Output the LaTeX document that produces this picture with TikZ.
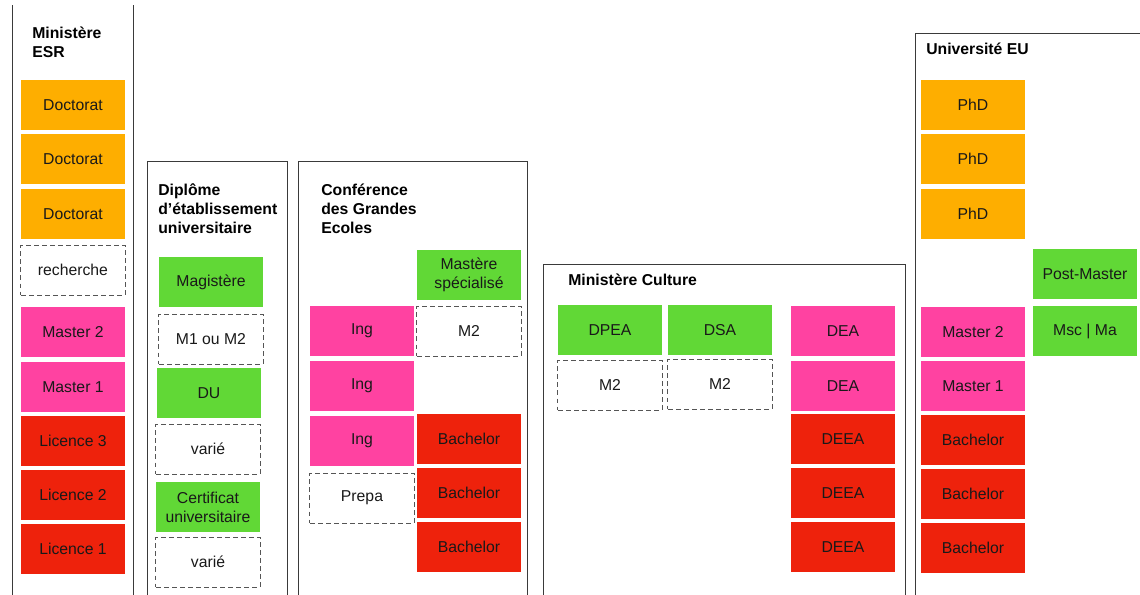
\documentclass[tikz,border=0pt]{standalone}
\usepackage{fontspec}
\setmainfont{Liberation Sans}
\usepackage{xcolor}
\usepackage{tikz}

\definecolor{docorange}{HTML}{FEAE00}
\definecolor{dipgreen}{HTML}{61D836}
\definecolor{mpink}{HTML}{FF42A1}
\definecolor{lred}{HTML}{EE220C}
\definecolor{frameline}{HTML}{3A3A3A}
\definecolor{dashline}{HTML}{555555}

\begin{document}
\begin{tikzpicture}[
    x=0.025cm,
    y=-0.025cm,
    font=\fontsize{11.2}{13.5}\selectfont,
    cell/.style={
        minimum width=2.6cm,
        minimum height=1.25cm,
        inner sep=1mm,
        align=center,
        text=black!90
    },
    doct/.style={
        cell,
        fill=docorange
    },
    mast/.style={
        cell,
        fill=mpink
    },
    lic/.style={
        cell,
        fill=lred
    },
    dipl/.style={
        cell,
        fill=dipgreen
    },
    other/.style={
        cell,
        draw=dashline,
        line width=0.7pt,
        dash pattern=on 3.5pt off 2.2pt
    },
    panel/.style={
        draw=frameline,
        line width=0.7pt
    },
    title/.style={
        font=\fontsize{11.2}{13.5}\selectfont\bfseries,
        anchor=base west,
        inner sep=0pt,
        align=left
    }
]

\clip (0,0) rectangle (1140,594);

% Panels (open at the bottom of the page)
\draw[panel] (12,5) -- (12,600);
\draw[panel] (133,5) -- (133,600);
\draw[panel] (147,600) |- (287,161) -- (287,600);
\draw[panel] (298,600) |- (527,161) -- (527,600);
\draw[panel] (543,600) |- (905,264) -- (905,600);
\draw[panel] (915,600) |- (1150,33);


% Column 1 --- Ministère ESR (title placed by its last line)
\node[title] (esr) at (32,57) {Ministère\\ESR};

\node[doct]  (esr-d3) at (73,105) {Doctorat};
\node[doct]  (esr-d2) at (73,159) {Doctorat};
\node[doct]  (esr-d1) at (73,214) {Doctorat};
\node[other] (esr-r)  at (73,270) {recherche};
\node[mast]  (esr-m2) at (73,332) {Master 2};
\node[mast]  (esr-m1) at (73,387) {Master 1};
\node[lic]   (esr-l3) at (73,441) {Licence 3};
\node[lic]   (esr-l2) at (73,495) {Licence 2};
\node[lic]   (esr-l1) at (73,549) {Licence 1};


% Column 2 --- diplômes d'établissement
\node[title] (deu) at (158,233) {Diplôme\\d’établissement\\universitaire};

\node[dipl]  (deu-mag)  at (211,282) {Magistère};
\node[other] (deu-m)    at (211,339) {M1 ou M2};
\node[dipl]  (deu-du)   at (209,393) {DU};
\node[other] (deu-v1)   at (208,449) {varié};
\node[dipl]  (deu-cert) at (208,507) {Certificat\\universitaire};
\node[other] (deu-v2)   at (208,562) {varié};


% Column 3 --- Conférence des Grandes Ecoles
\node[title] (cge) at (321,233) {Conférence\\des Grandes\\Ecoles};

\node[mast]  (cge-i3) at (362,331) {Ing};
\node[mast]  (cge-i2) at (362,386) {Ing};
\node[mast]  (cge-i1) at (362,441) {Ing};
\node[other] (cge-p)  at (362,498) {Prepa};

\node[dipl]  (cge-ms) at (469,275) {Mastère\\spécialisé};
\node[other] (cge-m2) at (469,331) {M2};
\node[lic]   (cge-b3) at (469,439) {Bachelor};
\node[lic]   (cge-b2) at (469,493) {Bachelor};
\node[lic]   (cge-b1) at (469,547) {Bachelor};


% Column 4 --- Ministère Culture
\node[title] (cul) at (568,285) {Ministère Culture};

\node[dipl]  (cul-dpea) at (610,330) {DPEA};
\node[dipl]  (cul-dsa)  at (720,330) {DSA};
\node[other] (cul-m2a)  at (610,385) {M2};
\node[other] (cul-m2b)  at (720,384) {M2};

\node[mast]  (cul-dea2)  at (843,331) {DEA};
\node[mast]  (cul-dea1)  at (843,386) {DEA};
\node[lic]   (cul-deea3) at (843,439) {DEEA};
\node[lic]   (cul-deea2) at (843,493) {DEEA};
\node[lic]   (cul-deea1) at (843,547) {DEEA};


% Column 5 --- Université EU
\node[title] (eu) at (926,54) {Université EU};

\node[doct] (eu-p3) at (973,105) {PhD};
\node[doct] (eu-p2) at (973,159) {PhD};
\node[doct] (eu-p1) at (973,214) {PhD};
\node[mast] (eu-m2) at (973,332) {Master 2};
\node[mast] (eu-m1) at (973,386) {Master 1};
\node[lic]  (eu-b3) at (973,440) {Bachelor};
\node[lic]  (eu-b2) at (973,494) {Bachelor};
\node[lic]  (eu-b1) at (973,548) {Bachelor};

\node[dipl] (eu-pm)  at (1085,274) {Post-Master};
\node[dipl] (eu-msc) at (1085,331) {Msc | Ma};

\end{tikzpicture}
\end{document}
